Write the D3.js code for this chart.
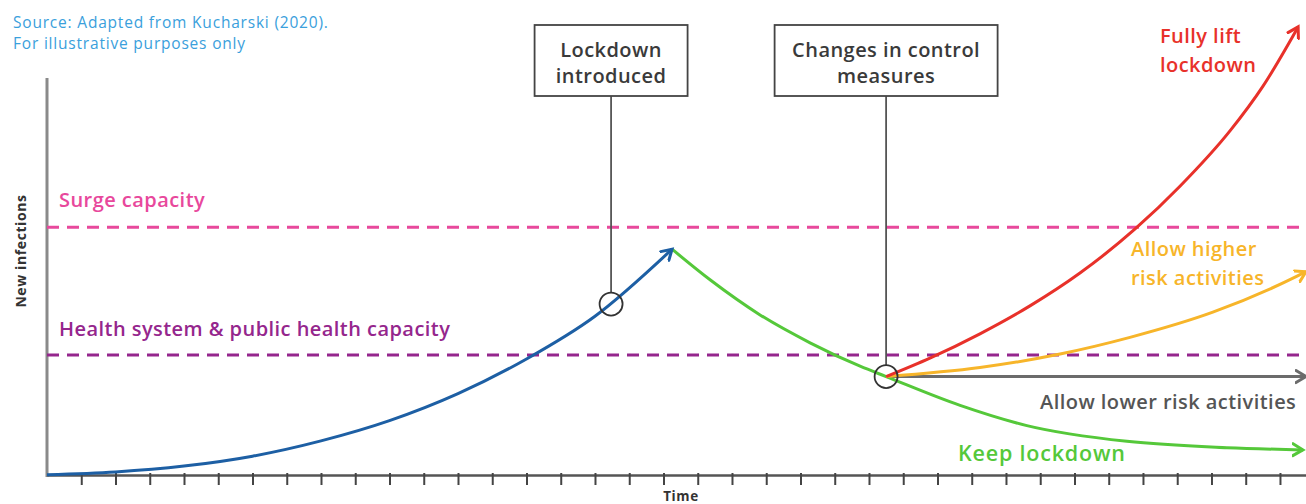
<!DOCTYPE html>
<html>
<head>
<meta charset="utf-8">
<script src="https://cdn.jsdelivr.net/npm/d3@7"></script>
<style>
  html, body { margin: 0; padding: 0; background: #fff; }
  svg { display: block; font-family: "Open Sans", "Noto Sans", sans-serif; }
</style>
</head>
<body>
<svg id="chart" width="1306" height="504"></svg>
<script>
// ---------- DATA (time units, new-infection index 0..100) ----------
const timeTicks = d3.range(1, 37);
const surgeCapacity = 55.3;
const healthCapacity = 26.9;

const growthBeforeLockdown = [[0,0.3],[2,0.9],[4,2.2],[6,4.4],[8,7.8],[10,12.3],[12,18.3],[14,26],[16,35.5],[18.25,50.4]];
const keepLockdown = [[18.25,50.4],[19.36,43.6],[20.82,35.8],[22.28,29.6],[23.74,24.4],[24.5,22.1],[26.66,15.7],[28.61,11.2],[31.53,7.7],[34.45,6.3],[36.67,5.8]];
const fullyLift = [[24.5,22.1],[25.78,26.2],[27.24,31.6],[28.7,37.8],[30.16,45.1],[31.77,54.9],[33.08,64.4],[34.54,76.7],[35.5,86.6],[36.53,99.8]];
const allowHigherRisk = [[24.5,22.1],[27.24,24.1],[29.58,27.1],[31.62,30.8],[34.04,36.4],[36.5,44.4],[36.76,45.4]];
const allowLowerRisk = [[24.5,22.1],[36.76,22.1]];

const events = [
  { t: 16.47, v: 38.2, lines: ["Lockdown", "introduced"], w: 153 },
  { t: 24.5,  v: 22.1, lines: ["Changes in control", "measures"], w: 223 }
];

const sourceLines = ["Source: Adapted from Kucharski (2020).", "For illustrative purposes only"];

// ---------- LAYOUT ----------
const svg = d3.select("#chart");
const x = d3.scaleLinear().domain([0, 36.76]).range([47, 1306]);
const y = d3.scaleLinear().domain([0, 100]).range([476, 26]);

const colors = {
  blue: "#1d5fa4", green: "#55c83a", red: "#e8312a", orange: "#f7b52a",
  gray: "#6b6b6b", pink: "#e8489c", purple: "#95268d", text: "#3a3a3a", source: "#3aa0dc"
};
const labelFont = { size: 20, weight: 600, spacing: 0.45 };

// markers
const defs = svg.append("defs");
Object.entries(colors).forEach(([k, c]) => {
  defs.append("marker")
    .attr("id", "arrow-" + k)
    .attr("viewBox", "-1 -8 14 16")
    .attr("refX", 10).attr("refY", 0)
    .attr("markerWidth", 14).attr("markerHeight", 16)
    .attr("markerUnits", "userSpaceOnUse")
    .attr("orient", "auto")
    .append("path")
    .attr("d", "M0,-6 L10,0 L0,6")
    .attr("fill", "none").attr("stroke", c)
    .attr("stroke-width", 3).attr("stroke-linecap", "round").attr("stroke-linejoin", "miter");
});

function styleLabel(sel) {
  return sel.attr("font-size", labelFont.size).attr("font-weight", labelFont.weight)
    .attr("letter-spacing", labelFont.spacing);
}

// source text
svg.append("g").selectAll("text").data(sourceLines).join("text")
  .attr("x", 13).attr("y", (d, i) => 28 + i * 21)
  .attr("font-size", 15.5).attr("letter-spacing", 0.8)
  .attr("fill", colors.source).text(d => d);

// y axis line
svg.append("line").attr("x1", 47).attr("x2", 47).attr("y1", 78).attr("y2", 477)
  .attr("stroke", "#8a8a8a").attr("stroke-width", 3);

// x axis
const xAxis = d3.axisBottom(x).tickValues(timeTicks).tickFormat("").tickSizeInner(10).tickSizeOuter(0);
const gx = svg.append("g").attr("transform", "translate(0,475)").call(xAxis);
gx.select(".domain").attr("stroke", "#555").attr("stroke-width", 2.5);
gx.selectAll(".tick line").attr("stroke", "#444").attr("stroke-width", 2).attr("y1", -2);

// capacity lines
[[surgeCapacity, colors.pink], [healthCapacity, colors.purple]].forEach(([v, c]) => {
  svg.append("line").attr("x1", 47).attr("x2", 1306).attr("y1", y(v)).attr("y2", y(v))
    .attr("stroke", c).attr("stroke-width", 3).attr("stroke-dasharray", "12,8");
});
styleLabel(svg.append("text").attr("x", 59).attr("y", 207)).attr("fill", colors.pink).text("Surge capacity");
styleLabel(svg.append("text").attr("x", 59).attr("y", 336)).attr("fill", colors.purple).text("Health system & public health capacity");

// curves
const line = d3.line().x(d => x(d[0])).y(d => y(d[1])).curve(d3.curveMonotoneX);
const series = [
  [allowLowerRisk, "gray"], [keepLockdown, "green"], [allowHigherRisk, "orange"],
  [fullyLift, "red"], [growthBeforeLockdown, "blue"]
];
series.forEach(([data, k]) => {
  svg.append("path").datum(data).attr("d", line)
    .attr("fill", "none").attr("stroke", colors[k]).attr("stroke-width", 3)
    .attr("marker-end", "url(#arrow-" + k + ")");
});

// event annotations
const boxTop = 25, boxH = 71;
events.forEach(e => {
  const cx = x(e.t), cy = y(e.v), r = 11.5;
  svg.append("line").attr("x1", cx).attr("x2", cx).attr("y1", boxTop + boxH).attr("y2", cy - r)
    .attr("stroke", "#555").attr("stroke-width", 1.8);
  svg.append("circle").attr("cx", cx).attr("cy", cy).attr("r", r)
    .attr("fill", "none").attr("stroke", "#333").attr("stroke-width", 1.8);
  svg.append("rect").attr("x", cx - e.w / 2).attr("y", boxTop).attr("width", e.w).attr("height", boxH)
    .attr("fill", "#fff").attr("stroke", "#444").attr("stroke-width", 1.8);
  styleLabel(svg.append("g").selectAll("text").data(e.lines).join("text")
    .attr("x", cx).attr("y", (d, i) => 57 + i * 26).attr("text-anchor", "middle"))
    .attr("fill", colors.text).text(d => d);
});

// scenario labels
const labels = [
  { lines: ["Fully lift", "lockdown"], x: 1160, y: 43, c: colors.red },
  { lines: ["Allow higher", "risk activities"], x: 1131, y: 256, c: colors.orange },
  { lines: ["Allow lower risk activities"], x: 1040, y: 409, c: "#555" },
  { lines: ["Keep lockdown"], x: 958, y: 461, c: colors.green, size: 21.5, spacing: 0.8 }
];
labels.forEach(l => {
  const sel = styleLabel(svg.append("g").selectAll("text").data(l.lines).join("text")
    .attr("x", l.x).attr("y", (d, i) => l.y + i * 29))
    .attr("fill", l.c).text(d => d);
  if (l.size) sel.attr("font-size", l.size).attr("letter-spacing", l.spacing);
});

// axis titles
svg.append("text").attr("transform", "translate(26,251) rotate(-90)").attr("text-anchor", "middle")
  .attr("font-size", 14).attr("font-weight", "bold").attr("letter-spacing", 0.6)
  .attr("fill", "#333").text("New infections");
svg.append("text").attr("x", 681).attr("y", 501).attr("text-anchor", "middle")
  .attr("font-size", 13.5).attr("font-weight", "bold").attr("letter-spacing", 0.6)
  .attr("fill", "#333").text("Time");
</script>
</body>
</html>
